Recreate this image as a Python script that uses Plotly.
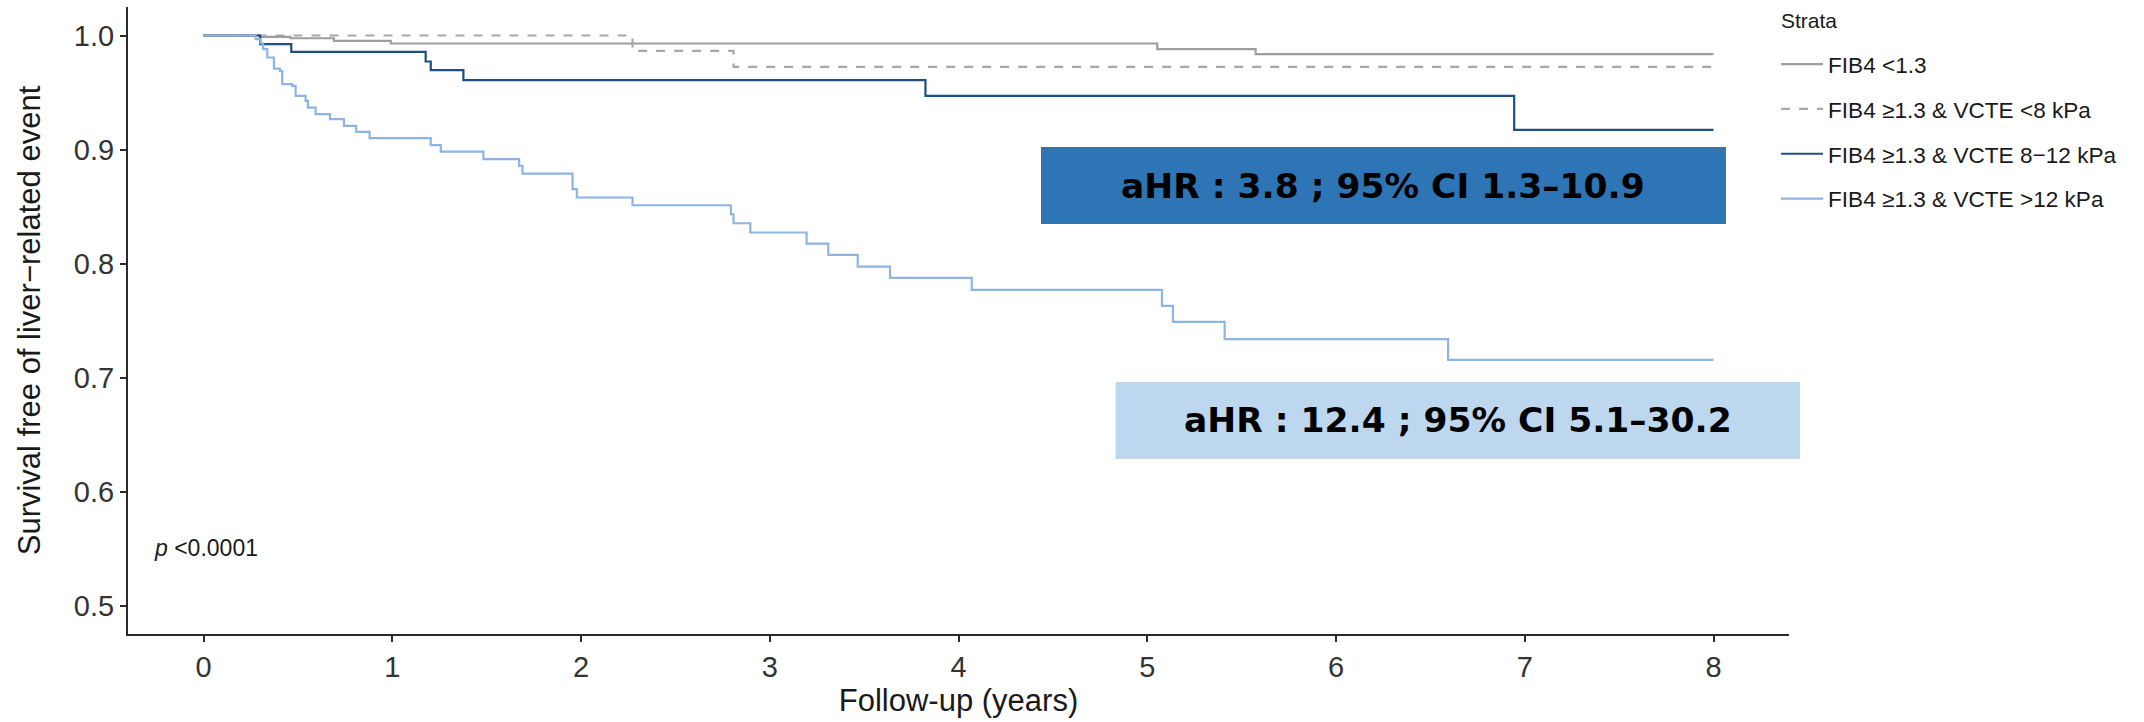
import plotly.graph_objects as go

# Kaplan-Meier estimates (follow-up in years, survival free of liver-related event)
strata = [
    "FIB4 &lt;1.3",
    "FIB4 ≥1.3 & VCTE &lt;8 kPa",
    "FIB4 ≥1.3 & VCTE 8−12 kPa",
    "FIB4 ≥1.3 & VCTE >12 kPa",
]

t_fib4_low = [0, 0.30, 0.461, 0.691, 0.992, 5.053, 5.574, 8.0]
s_fib4_low = [1.0, 0.9988, 0.9976, 0.9953, 0.993, 0.988, 0.9836, 0.9836]

t_vcte_lt8 = [0, 2.273, 2.808, 8.0]
s_vcte_lt8 = [1.0, 0.9865, 0.9725, 0.9725]

t_vcte_8_12 = [0, 0.30, 0.465, 1.177, 1.204, 1.377, 3.825, 6.944, 8.0]
s_vcte_8_12 = [1.0, 0.9924, 0.9856, 0.9772, 0.9696, 0.9608, 0.947, 0.9172, 0.9172]

t_vcte_gt12 = [0, 0.276, 0.302, 0.316, 0.338, 0.373, 0.405, 0.417, 0.470, 0.488,
               0.541, 0.553, 0.594, 0.670, 0.744, 0.809, 0.880, 1.204, 1.257, 1.483,
               1.672, 1.690, 1.955, 1.978, 2.273, 2.794, 2.808, 2.897, 3.195, 3.310,
               3.466, 3.637, 4.070, 5.078, 5.136, 5.410, 6.594, 8.0]
s_vcte_gt12 = [1.0, 0.9968, 0.9932, 0.988, 0.9807, 0.971, 0.969, 0.9573, 0.9558, 0.947,
               0.9427, 0.9368, 0.931, 0.9266, 0.9207, 0.9155, 0.9099, 0.9038, 0.8982, 0.8915,
               0.8856, 0.8789, 0.8652, 0.8579, 0.8511, 0.8432, 0.8353, 0.8272, 0.8175, 0.8076,
               0.7973, 0.7874, 0.7769, 0.7628, 0.7488, 0.7336, 0.7155, 0.7155]

x_ticks = [0, 1, 2, 3, 4, 5, 6, 7, 8]
y_ticks = [0.5, 0.6, 0.7, 0.8, 0.9, 1.0]
y_tick_text = ["0.5", "0.6", "0.7", "0.8", "0.9", "1.0"]

# adjusted hazard ratios vs FIB4 <1.3
ahr_8_12, ci_8_12 = 3.8, (1.3, 10.9)
ahr_gt12, ci_gt12 = 12.4, (5.1, 30.2)
p_text = "<i>p</i> &lt;0.0001"

X_RANGE = [-0.4, 8.4]
Y_RANGE = [0.475, 1.025]

# plot area in pixels
L, R, T, B = 128, 355, 7, 88
W, H = 2144, 722
PW, PH = W - L - R, H - T - B

series = [
    (t_fib4_low, s_fib4_low, "#9d9d9d", "solid"),
    (t_vcte_lt8, s_vcte_lt8, "#a8a8a8", "9px,9px"),
    (t_vcte_8_12, s_vcte_8_12, "#1f4e80", "solid"),
    (t_vcte_gt12, s_vcte_gt12, "#8db4e2", "solid"),
]

fig = go.Figure()
for i, ((t, s, col, dash), name) in enumerate(zip(series, strata)):
    fig.add_trace(go.Scatter(
        x=t, y=s, mode="lines", name=name,
        line=dict(color=col, width=2.2, dash=dash, shape="hv"),
        legendgroup=f"g{i}", hoverinfo="skip",
    ))


def xpaper(x):
    return (x - X_RANGE[0]) / (X_RANGE[1] - X_RANGE[0])


# hazard-ratio boxes (x in years, y in survival units)
boxes = [
    dict(x0=4.437, x1=8.066, y0=0.8346, y1=0.9022, fill="#2e75b6",
         text=f"aHR : {ahr_8_12} ; 95% CI {ci_8_12[0]}–{ci_8_12[1]}"),
    dict(x0=4.832, x1=8.458, y0=0.6285, y1=0.6961, fill="#bdd7ee",
         text=f"aHR : {ahr_gt12} ; 95% CI {ci_gt12[0]}–{ci_gt12[1]}"),
]
for b in boxes:
    fig.add_shape(type="rect", xref="paper", yref="y",
                  x0=xpaper(b["x0"]), x1=xpaper(b["x1"]), y0=b["y0"], y1=b["y1"],
                  fillcolor=b["fill"], line=dict(width=0), layer="above")
    fig.add_annotation(xref="paper", yref="y",
                       x=xpaper((b["x0"] + b["x1"]) / 2), y=(b["y0"] + b["y1"]) / 2,
                       text=f"<b>{b['text']}</b>", showarrow=False,
                       xanchor="center", yanchor="middle",
                       font=dict(family="DejaVu Sans", size=34.5, color="#000000"))

fig.add_annotation(x=-0.273, y=0.5505, xref="x", yref="y", text=p_text,
                   showarrow=False, xanchor="left", yanchor="middle",
                   font=dict(family="Liberation Sans", size=23, color="#1a1a1a"))

# legend heading
fig.add_annotation(xref="paper", yref="paper",
                   x=(1779 - L) / PW, y=(H - B - 20) / PH,
                   text="Strata", showarrow=False, xanchor="left", yanchor="middle",
                   font=dict(family="Liberation Sans", size=21, color="#1a1a1a"))

axis_col = "#2a2a2a"
fig.update_xaxes(
    range=X_RANGE, tickvals=x_ticks, ticktext=[str(v) for v in x_ticks],
    showline=True, linecolor=axis_col, linewidth=2, mirror=False,
    ticks="outside", ticklen=6, tickwidth=2, tickcolor=axis_col,
    showgrid=False, zeroline=False,
    tickfont=dict(family="Liberation Sans", size=29, color="#333333"),
    title=dict(text="Follow-up (years)", standoff=8,
               font=dict(family="Liberation Sans", size=31, color="#1a1a1a")),
)
fig.update_yaxes(
    range=Y_RANGE, tickvals=y_ticks, ticktext=y_tick_text,
    showline=True, linecolor=axis_col, linewidth=2, mirror=False,
    ticks="outside", ticklen=6, tickwidth=2, tickcolor=axis_col,
    showgrid=False, zeroline=False,
    tickfont=dict(family="Liberation Sans", size=29, color="#333333"),
    title=dict(text="Survival free of liver−related event", standoff=24,
               font=dict(family="Liberation Sans", size=31, color="#1a1a1a")),
)

fig.update_layout(
    width=W, height=H,
    margin=dict(l=L, r=R, t=T, b=B),
    paper_bgcolor="white", plot_bgcolor="white",
    showlegend=True,
    legend=dict(
        x=(1776 - L) / PW, xanchor="left",
        y=(H - B - 43) / PH, yanchor="top",
        font=dict(family="Liberation Sans", size=22.6, color="#1a1a1a"),
        tracegroupgap=12.4, bgcolor="rgba(0,0,0,0)", itemwidth=42,
    ),
)

fig.write_html("out.html")
